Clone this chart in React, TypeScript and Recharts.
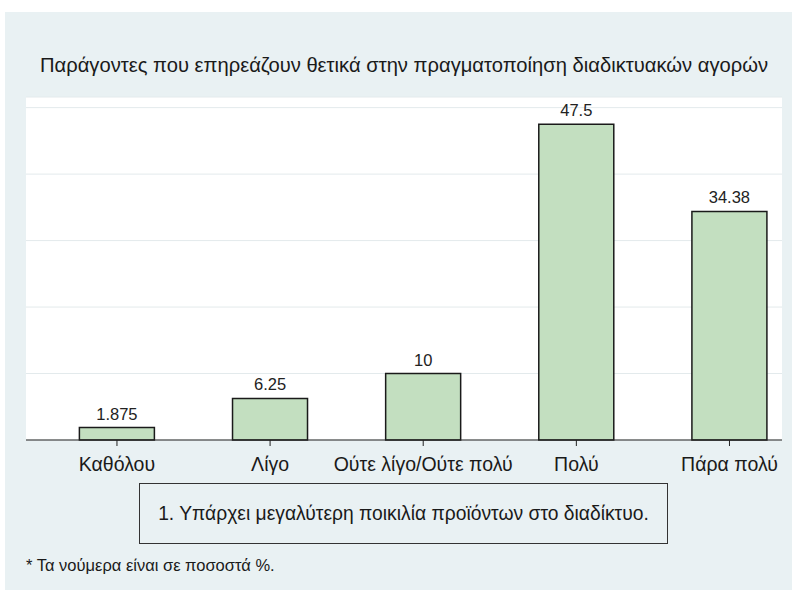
import { Bar, BarChart, CartesianGrid, LabelList, XAxis, YAxis } from 'recharts';

const categories = ['Καθόλου', 'Λίγο', 'Ούτε λίγο/Ούτε πολύ', 'Πολύ', 'Πάρα πολύ'];
const percents = [1.875, 6.25, 10, 47.5, 34.38];
const yTicks = [0, 10, 20, 30, 40, 50];

const title = 'Παράγοντες που επηρεάζουν θετικά στην πραγματοποίηση διαδικτυακών αγορών';
const legendText = '1. Υπάρχει μεγαλύτερη ποικιλία προϊόντων στο διαδίκτυο.';
const note = '* Τα νούμερα είναι σε ποσοστά %.';

const data = categories.map((name, i) => ({ pos: i + 1, name, value: percents[i] }));

const FONT = '"Liberation Sans", Arial, sans-serif';
const BG = '#e9f1f3';

export default function App() {
  return (
    <div style={{ position: 'absolute', left: 0, top: 0, width: 792, height: 590, background: '#fff', fontFamily: FONT }}>
      <div style={{ position: 'absolute', left: 5, top: 12, width: 787, height: 578, background: BG }} />
      <div style={{ position: 'absolute', left: 0, top: 0 }}>
        <BarChart width={792} height={590} data={data} margin={{ top: 97, right: 10, bottom: 120, left: 26 }}>
          <CartesianGrid vertical={false} stroke="#e3eaec" fill="#ffffff" />
          <YAxis hide domain={[0, 51.6]} ticks={yTicks} />
          <XAxis
            dataKey="pos"
            type="number"
            domain={[0.406, 5.343]}
            ticks={[1, 2, 3, 4, 5]}
            tickFormatter={(v: number) => categories[v - 1]}
            allowDataOverflow
            stroke="#222"
            tickSize={6}
            tickMargin={11}
            tick={{ fill: '#1a1a1a', fontSize: 19.5, fontFamily: FONT }}
            interval={0}
          />
          <Bar dataKey="value" barSize={75} fill="#c3dfc0" stroke="#1a1a1a" strokeWidth={1.5} isAnimationActive={false}>
            <LabelList dataKey="value" position="top" offset={8} fill="#222" fontSize={16.5} fontFamily={FONT} />
          </Bar>
        </BarChart>
      </div>
      <div style={{ position: 'absolute', left: 0, width: 808, top: 54, textAlign: 'center', fontSize: 20.2, color: '#1a1a1a' }}>
        {title}
      </div>
      <div
        style={{
          position: 'absolute',
          left: 139,
          top: 483,
          width: 527,
          height: 59,
          border: '1px solid #333',
          display: 'flex',
          alignItems: 'center',
          justifyContent: 'center',
          fontSize: 19.3,
          color: '#1a1a1a',
        }}
      >
        {legendText}
      </div>
      <div style={{ position: 'absolute', left: 26, top: 556, fontSize: 16.5, color: '#1a1a1a' }}>{note}</div>
    </div>
  );
}
